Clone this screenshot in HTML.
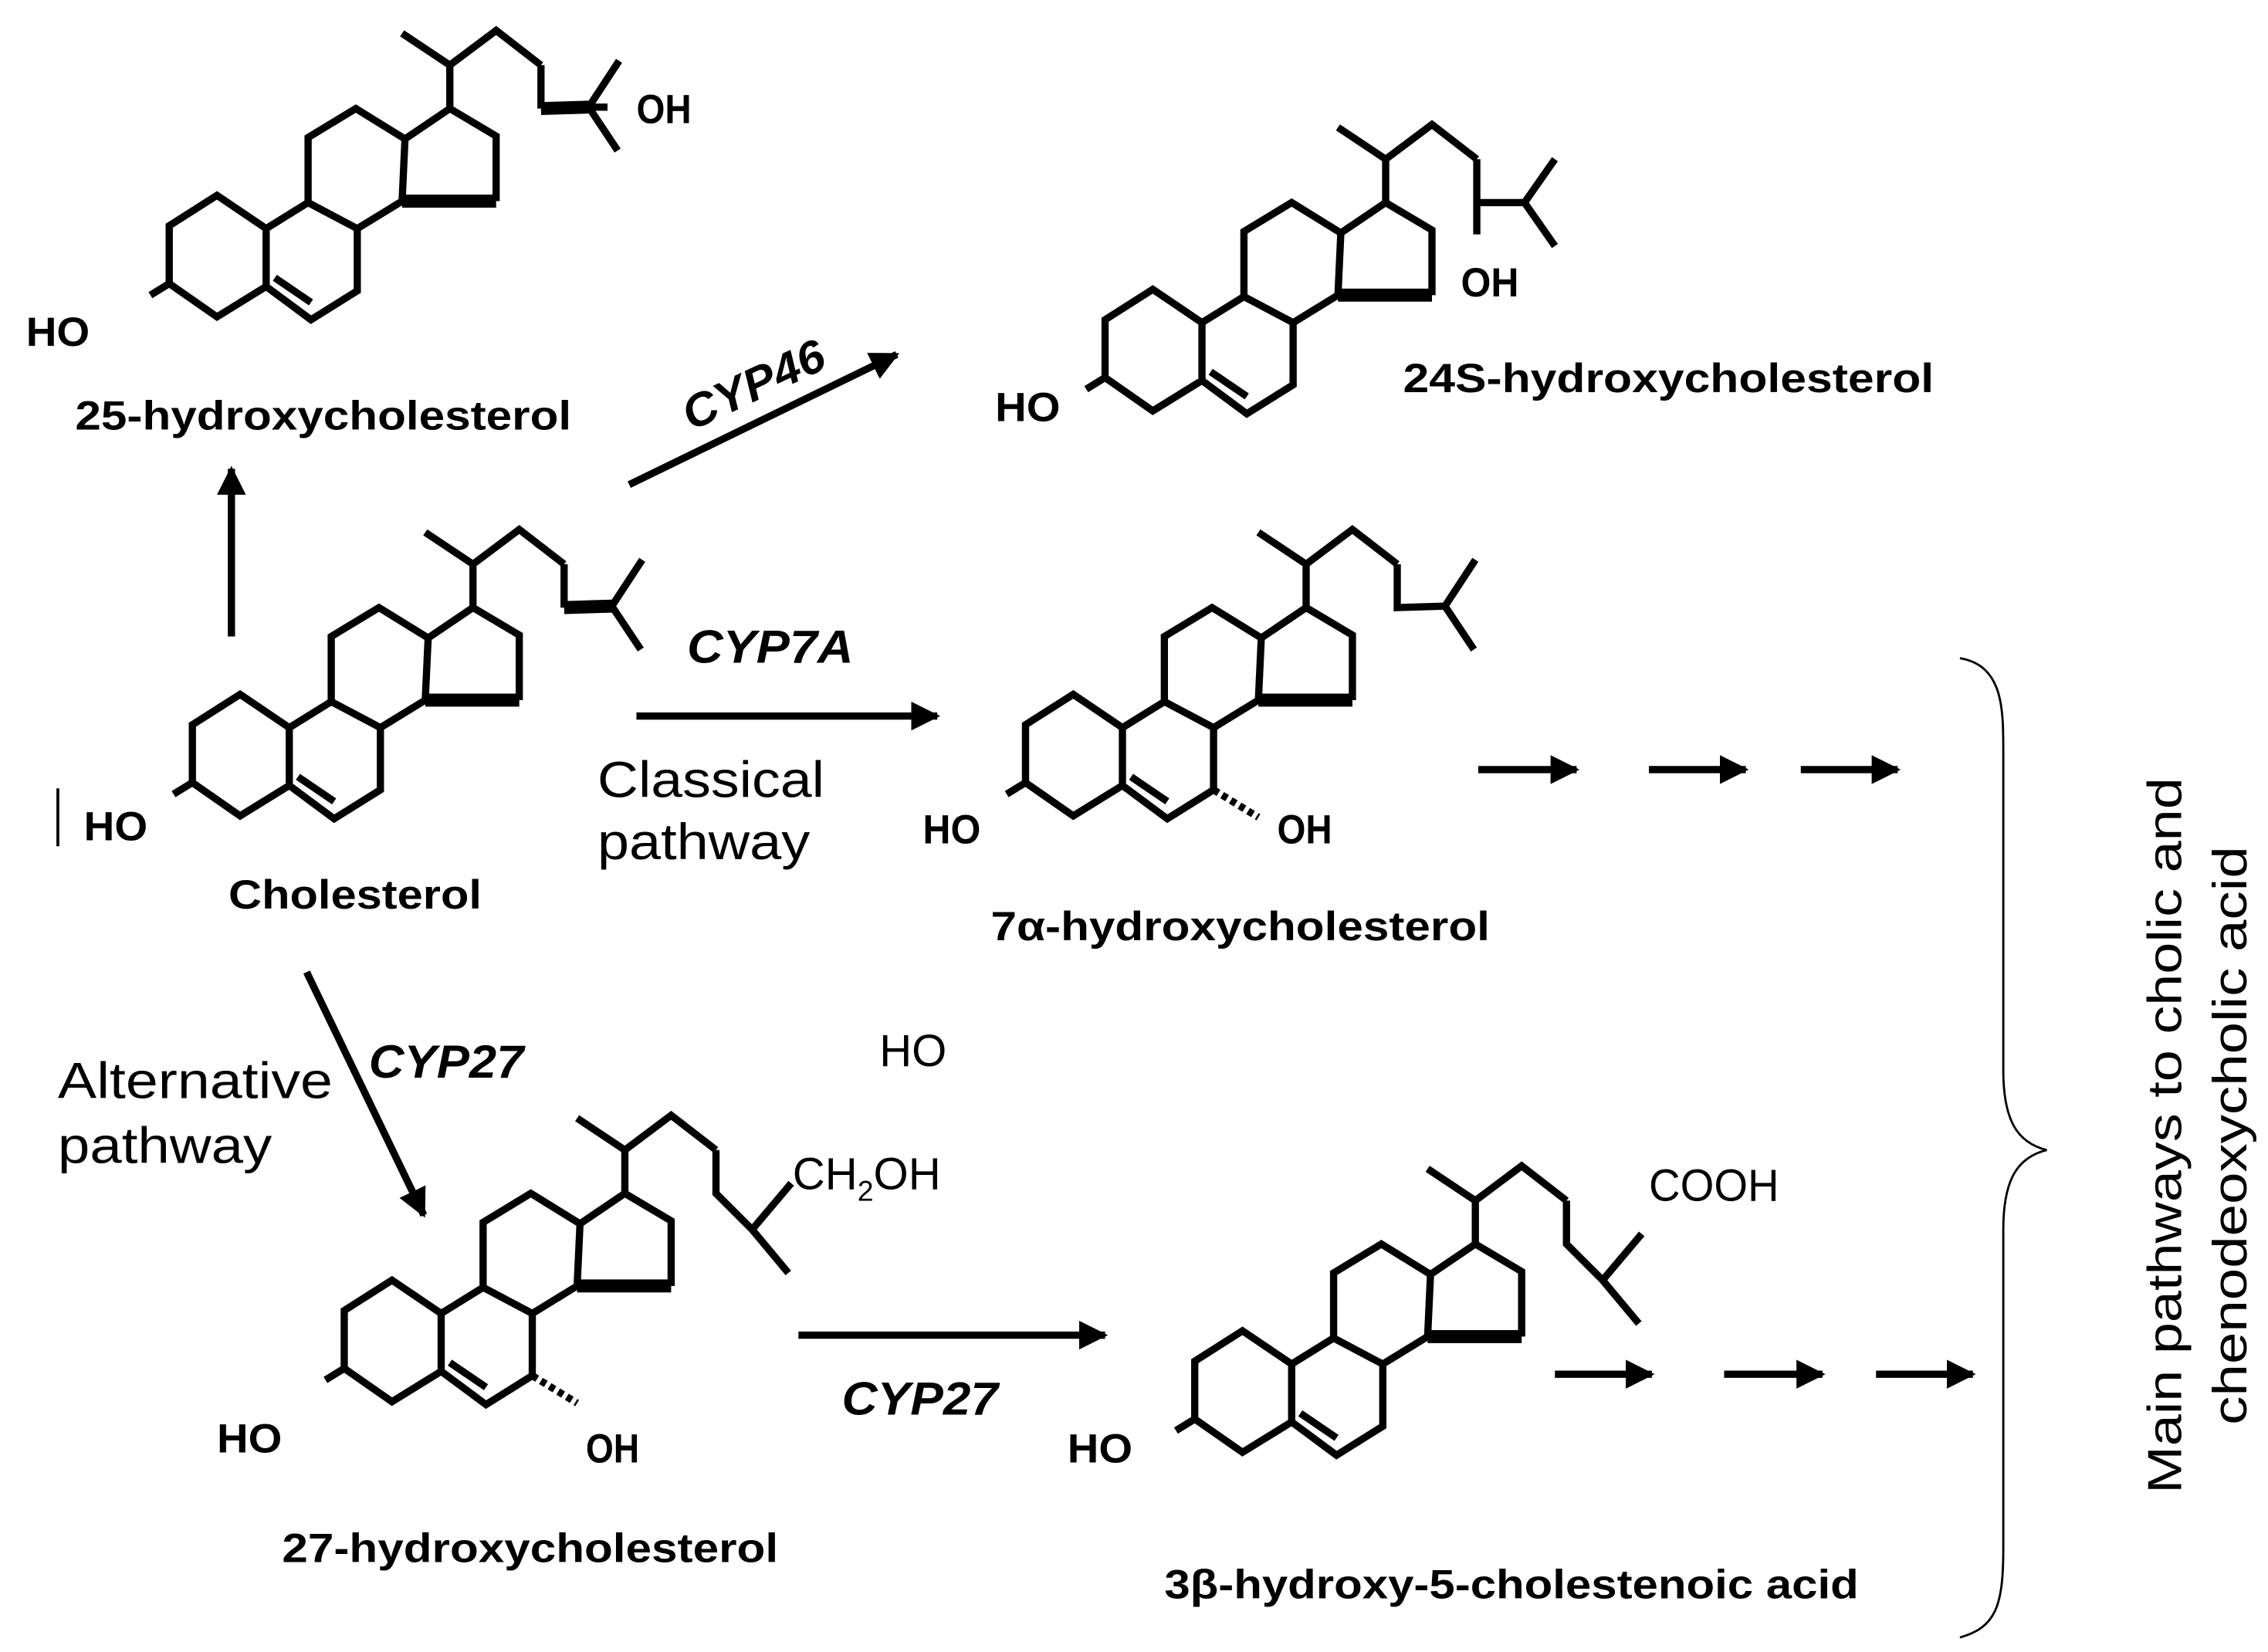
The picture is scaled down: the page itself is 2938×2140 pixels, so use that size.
<!DOCTYPE html>
<html><head><meta charset="utf-8"><style>
html,body{margin:0;padding:0;background:#fff;}
svg{display:block;}
text{font-family:"Liberation Sans",Arial,sans-serif;fill:#000;}
.lab{font-weight:bold;font-size:28px;}
.atom{font-weight:bold;font-size:28px;}
.enz{font-weight:bold;font-style:italic;font-size:32px;}
.path{font-size:35px;}
</style></head><body>
<svg width="2938" height="2140" viewBox="0 0 1568 1142" xmlns="http://www.w3.org/2000/svg">
<defs>
<marker id="ah" viewBox="0 0 10 10" refX="9" refY="5" markerWidth="4" markerHeight="4" orient="auto" markerUnits="strokeWidth">
<path d="M0,0 L10,5 L0,10 Z" fill="#000"/></marker>
<g id="core" fill="none" stroke="#000" stroke-width="5" stroke-linejoin="miter">
<path d="M0,0 L-33,21 L-33,61 L0,84 L34,63 L34,23 Z"/>
<path d="M34,23 L63,5 L97,23 L97,66 L65,86 L34,63"/>
<path d="M63,5 L63,-40 L96,-60 L130,-39 L128,4 L97,23"/>
<path d="M130,-39 L161,-60 L193,-41 L193,4"/>
<path d="M128,4 L193,4" stroke-width="9"/>
<path d="M161,-60 L161,-90 L128,-112 M161,-90 L193,-114 L224,-90"/>
<path d="M40,57 L65,74"/>
<path d="M-33,61 L-46,69"/>
</g>
</defs>

<g transform="translate(150,135)">
<use href="#core"/>
<g fill="none" stroke="#000" stroke-width="5">
<path d="M224,-90 L224,-60"/>
<path d="M224,-60 L257,-61" stroke-width="9"/>
<path d="M257,-61 L278,-93 M257,-61 L277,-31 M257,-61 L270,-61"/>
</g></g>
<text class="atom" x="440" y="85" textLength="38" lengthAdjust="spacingAndGlyphs">OH</text>
<text class="atom" x="18" y="239" textLength="44" lengthAdjust="spacingAndGlyphs">HO</text>
<text class="lab" x="52" y="297" textLength="343" lengthAdjust="spacingAndGlyphs">25-hydroxycholesterol</text>

<g transform="translate(797,200)">
<use href="#core"/>
<g fill="none" stroke="#000" stroke-width="5">
<path d="M224,-90 L224,-60 L257,-60 L278,-90 M257,-60 L278,-30 M224,-60 L224,-38"/>
</g></g>
<text class="atom" x="1010" y="205" textLength="40" lengthAdjust="spacingAndGlyphs">OH</text>
<text class="atom" x="688" y="291" textLength="45" lengthAdjust="spacingAndGlyphs">HO</text>
<text class="lab" x="970" y="271" textLength="367" lengthAdjust="spacingAndGlyphs">24S-hydroxycholesterol</text>

<g transform="translate(166,480)">
<use href="#core"/>
<g fill="none" stroke="#000" stroke-width="5">
<path d="M224,-90 L224,-60"/>
<path d="M224,-60 L257,-61" stroke-width="9"/>
<path d="M257,-61 L278,-93 M257,-61 L277,-31"/>
</g></g>
<line x1="40" y1="545" x2="40" y2="585" stroke="#000" stroke-width="2"/>
<text class="atom" x="58" y="581" textLength="44" lengthAdjust="spacingAndGlyphs">HO</text>
<text class="lab" x="158" y="628" textLength="175" lengthAdjust="spacingAndGlyphs">Cholesterol</text>

<g transform="translate(742,480)">
<use href="#core"/>
<g fill="none" stroke="#000" stroke-width="5">
<path d="M224,-90 L224,-60 L257,-61 L278,-93 M257,-61 L277,-31"/>
<path d="M97,66 L128,85" stroke-dasharray="4,3"/>
</g></g>
<text class="atom" x="638" y="583" textLength="40" lengthAdjust="spacingAndGlyphs">HO</text>
<text class="atom" x="883" y="583" textLength="38" lengthAdjust="spacingAndGlyphs">OH</text>
<text class="lab" x="685" y="650" textLength="345" lengthAdjust="spacingAndGlyphs">7α-hydroxycholesterol</text>

<g transform="translate(271,885)">
<use href="#core"/>
<g fill="none" stroke="#000" stroke-width="5">
<path d="M224,-90 L224,-60 L249,-35 L276,-67 M249,-35 L274,-5"/>
<path d="M97,66 L128,85" stroke-dasharray="4,3"/>
</g></g>
<text x="548" y="822" style="font-size:31px">CH<tspan font-size="20" dy="8">2</tspan><tspan dy="-8">OH</tspan></text>
<text class="atom" x="150" y="1004" textLength="45" lengthAdjust="spacingAndGlyphs">HO</text>
<text class="atom" x="405" y="1011" textLength="37" lengthAdjust="spacingAndGlyphs">OH</text>
<text class="lab" x="195" y="1080" textLength="343" lengthAdjust="spacingAndGlyphs">27-hydroxycholesterol</text>

<g transform="translate(859,920)">
<use href="#core"/>
<g fill="none" stroke="#000" stroke-width="5">
<path d="M224,-90 L224,-60 L249,-35 L276,-67 M249,-35 L274,-5"/>
</g></g>
<text x="1140" y="830" style="font-size:31px" textLength="90" lengthAdjust="spacingAndGlyphs">COOH</text>
<text class="atom" x="738" y="1011" textLength="45" lengthAdjust="spacingAndGlyphs">HO</text>
<text class="lab" x="805" y="1105" textLength="480" lengthAdjust="spacingAndGlyphs">3β-hydroxy-5-cholestenoic acid</text>

<g stroke="#000" stroke-width="5" fill="none" marker-end="url(#ah)">
<line x1="160" y1="440" x2="160" y2="324"/>
<line x1="435" y1="335" x2="620" y2="245"/>
<line x1="440" y1="495" x2="648" y2="495"/>
<line x1="1022" y1="532" x2="1090" y2="532"/>
<line x1="1140" y1="532" x2="1207" y2="532"/>
<line x1="1245" y1="532" x2="1312" y2="532"/>
<line x1="1075" y1="950" x2="1142" y2="950"/>
<line x1="1192" y1="950" x2="1260" y2="950"/>
<line x1="1297" y1="950" x2="1364" y2="950"/>
<line x1="212" y1="672" x2="293" y2="840"/>
<line x1="552" y1="923" x2="764" y2="923"/>
</g>

<text class="enz" transform="translate(478,298) rotate(-25)" textLength="105" lengthAdjust="spacingAndGlyphs">CYP46</text>
<text class="enz" x="475" y="458" textLength="115" lengthAdjust="spacingAndGlyphs">CYP7A</text>
<text class="path" x="413" y="551" textLength="157" lengthAdjust="spacingAndGlyphs">Classical</text>
<text class="path" x="413" y="594" textLength="147" lengthAdjust="spacingAndGlyphs">pathway</text>
<text class="path" x="40" y="759" textLength="190" lengthAdjust="spacingAndGlyphs">Alternative</text>
<text class="path" x="40" y="804" textLength="148" lengthAdjust="spacingAndGlyphs">pathway</text>
<text class="enz" x="255" y="745" textLength="107" lengthAdjust="spacingAndGlyphs">CYP27</text>
<text x="608" y="737" style="font-size:31px">HO</text>
<text class="enz" x="582" y="978" textLength="108" lengthAdjust="spacingAndGlyphs">CYP27</text>

<path d="M1355,455 C1385,460 1385,490 1385,520 L1385,740 C1385,775 1395,790 1415,795 C1395,800 1385,815 1385,850 L1385,1070 C1385,1110 1380,1125 1355,1132" fill="none" stroke="#000" stroke-width="1.5"/>
<text transform="translate(1508,785) rotate(-90)" text-anchor="middle" style="font-size:33px" textLength="495" lengthAdjust="spacingAndGlyphs">Main pathways to cholic and</text>
<text transform="translate(1553,785) rotate(-90)" text-anchor="middle" style="font-size:33px" textLength="400" lengthAdjust="spacingAndGlyphs">chenodeoxycholic acid</text>
</svg>
</body></html>
